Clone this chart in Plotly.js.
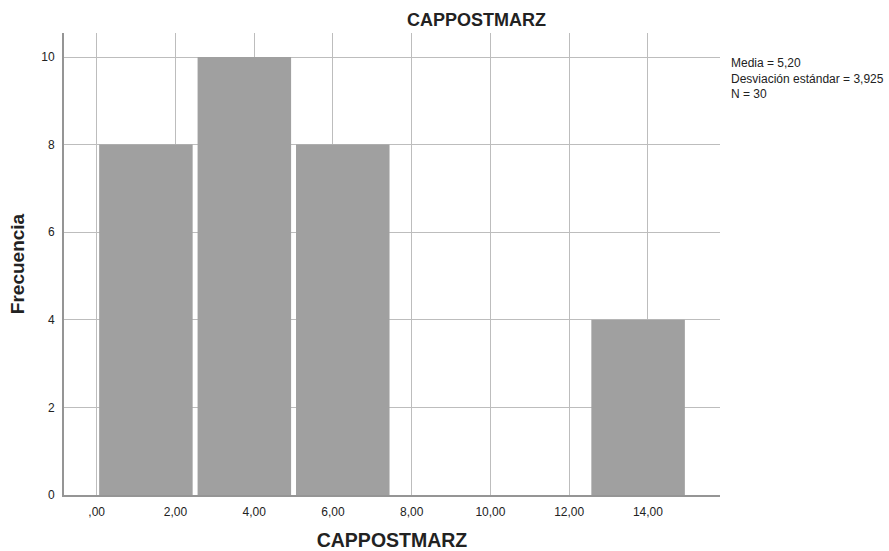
<!DOCTYPE html>
<html>
<head>
<meta charset="utf-8">
<script src="https://cdn.plot.ly/plotly-3.0.1.min.js"></script>
<style>html,body{margin:0;padding:0;background:#fff;}#chart{width:889px;height:551px;}</style>
</head>
<body>
<div id="chart"></div>
<script>
// Histogram data (bin centers and frequencies)
const binCenters = [1.25, 3.75, 6.25, 13.75];
const frequencies = [8, 10, 8, 4];
const xTickVals = [0, 2, 4, 6, 8, 10, 12, 14];
const xTickText = [",00", "2,00", "4,00", "6,00", "8,00", "10,00", "12,00", "14,00"];
const yTickVals = [0, 2, 4, 6, 8, 10];
const statsLines = ["Media = 5,20", "Desviación estándar = 3,925", "N = 30"];

const font = "Liberation Sans, Arial, sans-serif";

const trace = {
  type: "bar",
  x: binCenters,
  y: frequencies,
  marker: { color: "#a0a0a0", line: { width: 0 } },
  hoverinfo: "x+y"
};

const layout = {
  width: 889, height: 551,
  margin: { l: 64, r: 169, t: 33, b: 56 },
  paper_bgcolor: "#fff", plot_bgcolor: "#fff",
  showlegend: false,
  bargap: 0.05,
  title: { text: "<b>CAPPOSTMARZ</b>", x: 0.536, xref: "container", xanchor: "center", y: 0.975, yref: "container",
           font: { family: font, size: 18, color: "#222" } },
  xaxis: {
    range: [-0.83, 15.83],
    tickvals: xTickVals, ticktext: xTickText,
    showgrid: true, gridcolor: "#bdbdbd", gridwidth: 1,
    showline: true, linecolor: "#959595", linewidth: 2,
    ticks: "", zeroline: false, ticklabelstandoff: 5,
    tickfont: { family: font, size: 12, color: "#222" },
    title: { text: "<b>CAPPOSTMARZ</b>", standoff: 20, font: { family: font, size: 19.5, color: "#222" } }
  },
  yaxis: {
    range: [0, 10.548],
    tickvals: yTickVals,
    showgrid: true, gridcolor: "#bdbdbd", gridwidth: 1,
    showline: true, linecolor: "#959595", linewidth: 2,
    ticks: "", zeroline: false, ticklabelstandoff: 5,
    tickfont: { family: font, size: 12, color: "#222" },
    title: { text: "<b>Frecuencia</b>", standoff: 12, font: { family: font, size: 19, color: "#222" } }
  },
  annotations: [{
    text: statsLines.join("<br>"), xref: "paper", yref: "paper", x: 1.013, y: 0.955,
    xanchor: "left", yanchor: "top", align: "left", showarrow: false,
    font: { family: font, size: 12, color: "#222" }
  }]
};

Plotly.newPlot("chart", [trace], layout, { displayModeBar: false, staticPlot: true });
</script>
</body>
</html>
